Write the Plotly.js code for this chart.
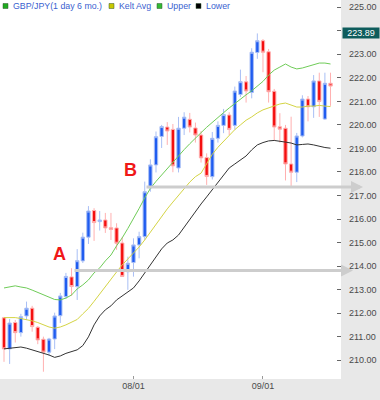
<!DOCTYPE html>
<html>
<head>
<meta charset="utf-8">
<script src="https://cdn.plot.ly/plotly-3.0.1.min.js"></script>
<style>html,body{margin:0;padding:0;background:#e8e8e8;}#chart{width:380px;height:400px;}</style>
</head>
<body>
<div id="chart"></div>
<script>
// ---- data (GBP/JPY daily) ----
const openVals = [211.80,210.48,211.60,211.17,211.88,212.21,211.40,210.89,210.34,210.90,211.89,212.70,213.54,213.13,214.22,215.23,216.36,215.89,215.96,215.63,215.62,214.98,213.76,214.15,214.90,215.25,217.32,218.30,219.51,219.91,219.81,218.17,219.86,220.24,219.87,219.57,218.61,217.80,219.43,219.98,220.42,219.98,221.29,221.83,221.38,223.08,223.58,223.11,221.43,219.92,219.86,218.34,217.99,219.53,221.10,220.77,221.87,220.25,221.77];
const highVals = [211.84,211.75,211.71,211.97,212.49,212.31,211.45,211.00,210.95,212.02,212.86,213.71,213.91,214.72,215.42,216.55,216.46,216.34,216.26,216.26,215.82,215.24,214.40,215.18,215.46,217.59,218.54,219.72,220.00,220.12,220.04,220.34,220.54,220.51,220.10,219.74,218.79,219.70,220.15,220.68,220.54,221.63,222.35,222.08,223.26,223.89,223.65,223.23,221.53,220.50,220.00,220.35,219.66,221.26,221.23,222.12,222.22,222.22,222.22];
const lowVals = [209.93,209.84,210.75,211.00,211.71,211.21,210.68,209.51,210.19,210.47,211.58,212.60,212.73,212.56,214.13,214.94,215.07,215.51,215.41,215.11,214.69,213.54,212.99,213.55,214.33,215.11,217.16,217.98,219.02,219.15,217.99,217.98,219.57,219.68,219.25,218.40,217.45,217.68,219.25,219.65,219.57,219.79,221.19,220.95,221.13,222.81,222.24,220.95,219.32,219.25,217.64,217.39,217.57,219.47,220.15,220.30,220.34,220.21,220.81];
const closeVals = [210.48,211.58,211.17,211.85,212.21,211.43,210.86,210.34,210.90,211.88,212.73,213.56,213.13,214.23,215.23,216.34,215.85,215.96,215.62,215.56,214.97,213.56,214.12,214.90,215.25,217.16,218.30,219.50,219.93,219.74,218.26,219.86,220.33,219.91,219.57,218.60,217.81,219.43,219.98,220.44,219.81,221.44,221.84,221.44,223.09,223.58,223.09,221.41,219.91,219.82,218.34,217.99,219.53,221.10,220.77,221.87,221.00,221.77,221.65];
const keltAvg = [211.81,211.81,211.81,211.77,211.73,211.67,211.60,211.50,211.41,211.36,211.41,211.50,211.62,211.73,211.97,212.20,212.50,212.80,213.10,213.45,213.75,214.05,214.30,214.52,214.81,215.11,215.45,215.79,216.13,216.43,216.72,217.02,217.32,217.57,217.80,217.95,218.35,218.75,219.05,219.30,219.55,219.80,220.00,220.20,220.34,220.51,220.64,220.72,220.80,220.89,220.93,220.85,220.76,220.76,220.80,220.80,220.83,220.80,220.78];
const upperBand = [213.07,213.13,213.16,213.11,213.07,212.98,212.88,212.77,212.67,212.58,212.56,212.64,212.77,213.03,213.20,213.41,213.71,213.92,214.22,214.47,214.86,215.20,215.60,216.00,216.45,216.90,217.30,217.60,217.88,218.15,218.42,218.70,218.95,219.20,219.45,219.67,219.90,220.12,220.33,220.52,220.72,220.92,221.10,221.28,221.45,221.65,221.85,222.12,222.33,222.46,222.59,222.46,222.38,222.42,222.50,222.57,222.63,222.63,222.59];
const lowerBand = [210.48,210.51,210.54,210.56,210.51,210.44,210.37,210.31,210.22,210.12,210.18,210.29,210.35,210.44,210.62,210.99,211.50,211.88,212.14,212.31,212.56,212.73,212.90,213.07,213.37,213.71,214.09,214.43,214.73,214.98,215.11,215.32,215.66,216.00,216.30,216.64,216.94,217.24,217.58,217.87,218.17,218.34,218.51,218.68,218.94,219.15,219.25,219.32,219.34,219.32,219.27,219.23,219.15,219.17,219.19,219.15,219.08,219.04,219.01];

const xTickVals = [23, 46];
const xTickText = ['08/01', '09/01'];
const yTickVals = [210,211,212,213,214,215,216,217,218,219,220,221,222,223,224,225];
const yTickText = ['210.00','211.00','212.00','213.00','214.00','215.00','216.00','217.00','218.00','219.00','220.00','221.00','222.00','223.00','','225.00'];

const lastLabel = 223.89;
const levelB = 217.36;   // horizontal support line near "B"
const levelA = 213.81;   // horizontal support line near "A"
const markA = {x: 9.8, y: 214.52, text: 'A'};
const markB = {x: 22.4, y: 218.09, text: 'B'};

const legendNames = ['GBP/JPY(1 day 6 mo.)', 'Kelt Avg', 'Upper', 'Lower'];

// ---- layout helpers ----
const PW = 341, PH = 379;
const px = v => v / PW;
const py = v => 1 - v / PH;
const idx = openVals.map((_, i) => i);

const traces = [
  {
    type: 'candlestick', x: idx, open: openVals, high: highVals, low: lowVals, close: closeVals,
    increasing: {line: {color: '#a9bff5', width: 1}, fillcolor: '#1f5cf0'},
    decreasing: {line: {color: '#ffb0b0', width: 1}, fillcolor: '#f40f0f'},
    whiskerwidth: 0, hoverinfo: 'skip', showlegend: false
  },
  {type: 'scatter', mode: 'lines', x: idx, y: upperBand, line: {color: '#6fcc58', width: 1}, hoverinfo: 'skip'},
  {type: 'scatter', mode: 'lines', x: idx, y: keltAvg, line: {color: '#d4d444', width: 1}, hoverinfo: 'skip'},
  {type: 'scatter', mode: 'lines', x: idx, y: lowerBand, line: {color: '#333333', width: 1}, hoverinfo: 'skip'}
];

const legendColors = ['#1faa1f', '#c8c800', '#33bb33', '#000000'];
const legendSqX = [3, 109, 157, 196];
const shapes = legendSqX.map((x, i) => ({
  type: 'rect', xref: 'paper', yref: 'paper',
  x0: px(x), x1: px(x + 5), y0: py(8.5), y1: py(3.5),
  fillcolor: legendColors[i], line: {color: '#335533', width: 0.5}
}));

const annotations = legendNames.map((t, i) => ({
  xref: 'paper', yref: 'paper', x: px(legendSqX[i] + 7.5), y: py(6),
  xanchor: 'left', yanchor: 'middle', showarrow: false, text: t,
  font: {family: 'Liberation Sans, Arial, sans-serif', size: 8.8, color: '#3a5fd0'}
}));

[markA, markB].forEach(m => annotations.push({
  x: m.x, y: m.y, xref: 'x', yref: 'y', showarrow: false, text: '<b>' + m.text + '</b>',
  font: {family: 'Liberation Sans, Arial, sans-serif', size: 18, color: '#f01818'}
}));

annotations.push({
  xref: 'paper', yref: 'y', x: px(363), y: levelB, text: '', showarrow: true,
  axref: 'pixel', ayref: 'pixel', ax: -(363 - 145), ay: 0,
  arrowhead: 2, arrowsize: 0.8, arrowwidth: 3, arrowcolor: '#cdcdcd', standoff: 0
});
annotations.push({
  xref: 'paper', yref: 'y', x: px(353), y: levelA, text: '', showarrow: true,
  axref: 'pixel', ayref: 'pixel', ax: -(353 - 73), ay: 0,
  arrowhead: 2, arrowsize: 0.8, arrowwidth: 3, arrowcolor: '#cdcdcd', standoff: 0
});

annotations.push({
  xref: 'paper', yref: 'y', x: 1, xshift: 1, y: lastLabel, xanchor: 'left', yanchor: 'middle',
  showarrow: false, text: lastLabel.toFixed(2), width: 36, align: 'center',
  bgcolor: '#0e5c5c', borderpad: 0,
  font: {family: 'Liberation Sans, Arial, sans-serif', size: 9, color: '#ffffff'}
});

const layout = {
  width: 380, height: 400,
  margin: {l: 0, r: 39, t: 0, b: 21, pad: 0},
  paper_bgcolor: '#e8e8e8', plot_bgcolor: '#ffffff',
  showlegend: false,
  boxgap: 0.15,
  font: {family: 'Liberation Sans, Arial, sans-serif', size: 9, color: '#4a4a4a'},
  xaxis: {
    range: [-0.71, 59.86], tickmode: 'array', tickvals: xTickVals, ticktext: xTickText,
    ticks: 'inside', ticklen: 3, tickcolor: '#999', showgrid: false, zeroline: false, showline: false,
    rangeslider: {visible: false}, fixedrange: true, tickfont: {size: 9}
  },
  yaxis: {
    side: 'right', range: [209.20, 225.31], tickmode: 'array', tickvals: yTickVals, ticktext: yTickText,
    ticks: 'inside', ticklen: 4, tickcolor: '#666', showgrid: false, zeroline: false, showline: false,
    fixedrange: true, tickfont: {size: 9}, ticklabelstandoff: 7
  },
  shapes: shapes,
  annotations: annotations
};

Plotly.newPlot('chart', traces, layout, {staticPlot: true, displayModeBar: false});
</script>
</body>
</html>
